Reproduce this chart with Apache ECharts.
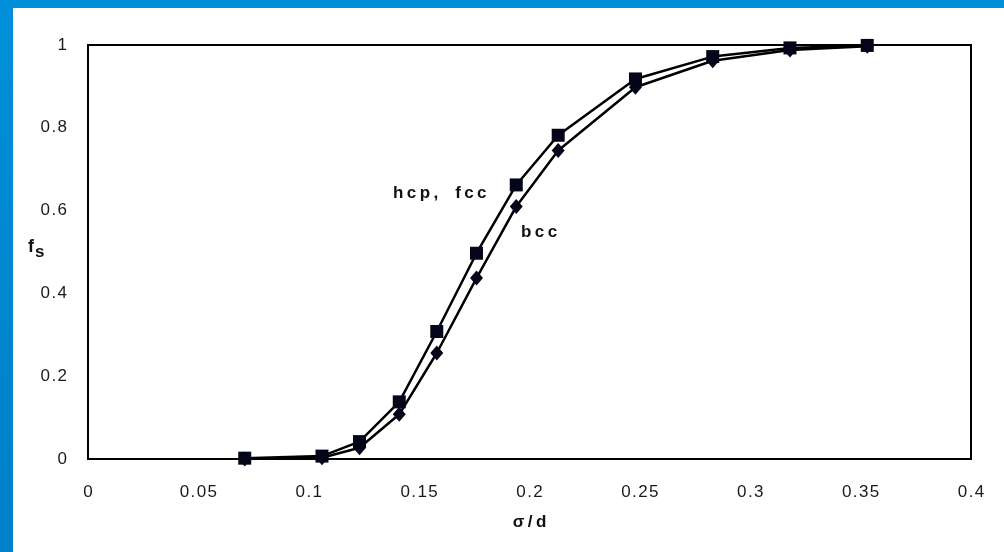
<!DOCTYPE html>
<html>
<head>
<meta charset="utf-8">
<script src="https://cdn.jsdelivr.net/npm/echarts@6/dist/echarts.min.js"></script>
<style>
  html, body { margin: 0; padding: 0; }
  #chart { width: 1004px; height: 552px; }
</style>
</head>
<body>
<div id="chart"></div>
<script>
// sigma/d values where the fraction was computed
var sigmaD = [0.071, 0.106, 0.123, 0.141, 0.158, 0.176, 0.194, 0.213, 0.248, 0.283, 0.318, 0.353];
var hcpFcc = [0.002, 0.007, 0.042, 0.138, 0.308, 0.497, 0.662, 0.782, 0.918, 0.972, 0.993, 0.999];
var bcc = [0.0, 0.003, 0.027, 0.108, 0.256, 0.437, 0.610, 0.745, 0.898, 0.962, 0.988, 0.997];

function pairs(xs, ys) {
  return xs.map(function (x, i) { return [x, ys[i]]; });
}

// the original text is set with loose tracking
function spread(str, sep) {
  return String(str).split('').join(sep);
}

var HAIR = '\u200A';
var THIN = '\u2009';
var FONT = 'Liberation Sans, Arial, sans-serif';

var myChart = echarts.init(document.getElementById('chart'));

var labelFont = {
  fontFamily: FONT,
  fontSize: 17,
  color: '#1a1a1a',
  formatter: function (v) { return spread(v, HAIR); }
};

var option = {
  backgroundColor: new echarts.graphic.LinearGradient(0, 0, 0, 1, [
    { offset: 0, color: '#0090d9' },
    { offset: 1, color: '#0080c6' }
  ]),
  animation: false,
  graphic: [
    {
      type: 'rect',
      z: -10,
      shape: { x: 13, y: 8, width: 991, height: 544 },
      style: { fill: '#ffffff' }
    },
    {
      type: 'text',
      left: 393,
      top: 185,
      style: {
        text: spread('hcp,', THIN) + '\u2002\u2002' + spread('fcc', THIN),
        font: 'bold 17px ' + FONT,
        fill: '#111'
      }
    },
    {
      type: 'text',
      left: 521,
      top: 224,
      style: {
        text: spread('bcc', THIN),
        font: 'bold 17px ' + FONT,
        fill: '#111'
      }
    },
    {
      // y axis title: f with subscript s
      type: 'text',
      left: 28,
      top: 238,
      style: {
        text: '{f|f}{s|s}',
        rich: {
          f: { fontFamily: FONT, fontSize: 18, fontWeight: 'bold', fill: '#111' },
          s: { fontFamily: FONT, fontSize: 17, fontWeight: 'bold', fill: '#111', padding: [10, 0, 0, 1] }
        }
      }
    }
  ],
  grid: {
    left: 88,
    right: 33,
    top: 45,
    bottom: 93,
    show: true,
    borderColor: '#000',
    borderWidth: 2,
    backgroundColor: '#fff'
  },
  xAxis: {
    type: 'value',
    min: 0,
    max: 0.4,
    interval: 0.05,
    name: spread('σ/d', THIN),
    nameLocation: 'middle',
    nameGap: 55,
    nameTextStyle: {
      fontFamily: FONT,
      fontSize: 17,
      fontWeight: 'bold',
      color: '#111'
    },
    axisLine: { lineStyle: { color: '#000', width: 2 } },
    axisTick: { show: false },
    splitLine: { show: false },
    axisLabel: Object.assign({ margin: 25 }, labelFont)
  },
  yAxis: {
    type: 'value',
    min: 0,
    max: 1,
    interval: 0.2,
    axisLine: { show: true, lineStyle: { color: '#000', width: 2 } },
    axisTick: { show: false },
    splitLine: { show: false },
    axisLabel: Object.assign({ margin: 21 }, labelFont)
  },
  series: [
    {
      name: 'hcp, fcc',
      type: 'line',
      data: pairs(sigmaD, hcpFcc),
      symbol: 'rect',
      symbolSize: 13,
      lineStyle: { color: '#000', width: 2.5 },
      itemStyle: { color: '#05051a' },
      z: 3
    },
    {
      name: 'bcc',
      type: 'line',
      data: pairs(sigmaD, bcc),
      symbol: 'diamond',
      symbolSize: [13, 15],
      lineStyle: { color: '#000', width: 2.5 },
      itemStyle: { color: '#05051a' },
      z: 2
    }
  ]
};

myChart.setOption(option);
</script>
</body>
</html>
